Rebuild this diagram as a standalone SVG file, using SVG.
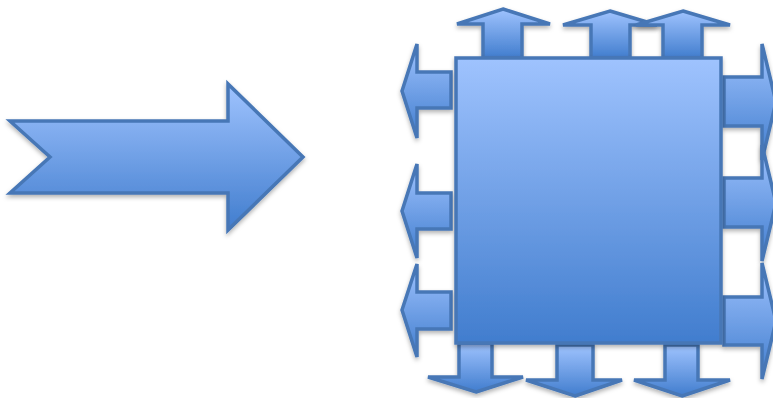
<svg xmlns="http://www.w3.org/2000/svg" width="773" height="398" viewBox="0 0 773 398">
<defs>
<linearGradient id="g" x1="0" y1="0" x2="0" y2="1">
<stop offset="0" stop-color="#9fc3fe"/>
<stop offset="1" stop-color="#417dce"/>
</linearGradient>
<filter id="sh" x="-20%" y="-20%" width="140%" height="140%">
<feDropShadow dx="0" dy="2.5" stdDeviation="2" flood-color="#000" flood-opacity="0.3"/>
</filter>
</defs>
<style>
.s{fill:url(#g);stroke:#4777b6;stroke-width:3.5;stroke-linejoin:miter;filter:url(#sh)}
</style>
<rect width="773" height="398" fill="#fff"/>
<g id="big-arrow">
<polygon class="s" points="10,121 228,121 228,84 303,157 228,230 228,193 10,193 50,157"/>
</g>
<g id="connectors">
<g id="up1"><polygon class="s" points="503,9 550,24 522,24 522,58 483,58 483,24 457,24"/></g>
<g id="up2"><polygon class="s" points="610,11 657,25 630,25 630,58 591,58 591,25 563,25"/></g>
<g id="up3"><polygon class="s" points="683,11 730,25 702,25 702,58 663,58 663,25 636,25"/></g>
<g id="left1"><polygon class="s" points="402,91 417,44 417,72 451,72 451,108 417,108 417,138"/></g>
<g id="left2"><polygon class="s" points="402,211 417,164 417,193 451,193 451,229 417,229 417,258"/></g>
<g id="left3"><polygon class="s" points="402,310 417,264 417,292 451,292 451,329 417,329 417,357"/></g>
<g id="right1"><polygon class="s" points="776,102 762,44 762,77 724,77 724,126 762,126 762,160"/></g>
<g id="right2"><polygon class="s" points="776,203 762,145 762,178 724,178 724,227 762,227 762,261"/></g>
<g id="right3"><polygon class="s" points="776,321 762,263 762,297 724,297 724,345 762,345 762,379"/></g>
<g id="down1"><polygon class="s" points="476,392 523,377 492,377 492,343 459,343 459,377 428,377"/></g>
<g id="down2"><polygon class="s" points="575,396 622,380 593,380 593,345 557,345 557,380 526,380"/></g>
<g id="down3"><polygon class="s" points="682,396 730,380 698,380 698,345 665,345 665,380 634,380"/></g>
</g>
<g id="square">
<rect class="s" x="456" y="58" width="265" height="285"/>
</g>
</svg>
